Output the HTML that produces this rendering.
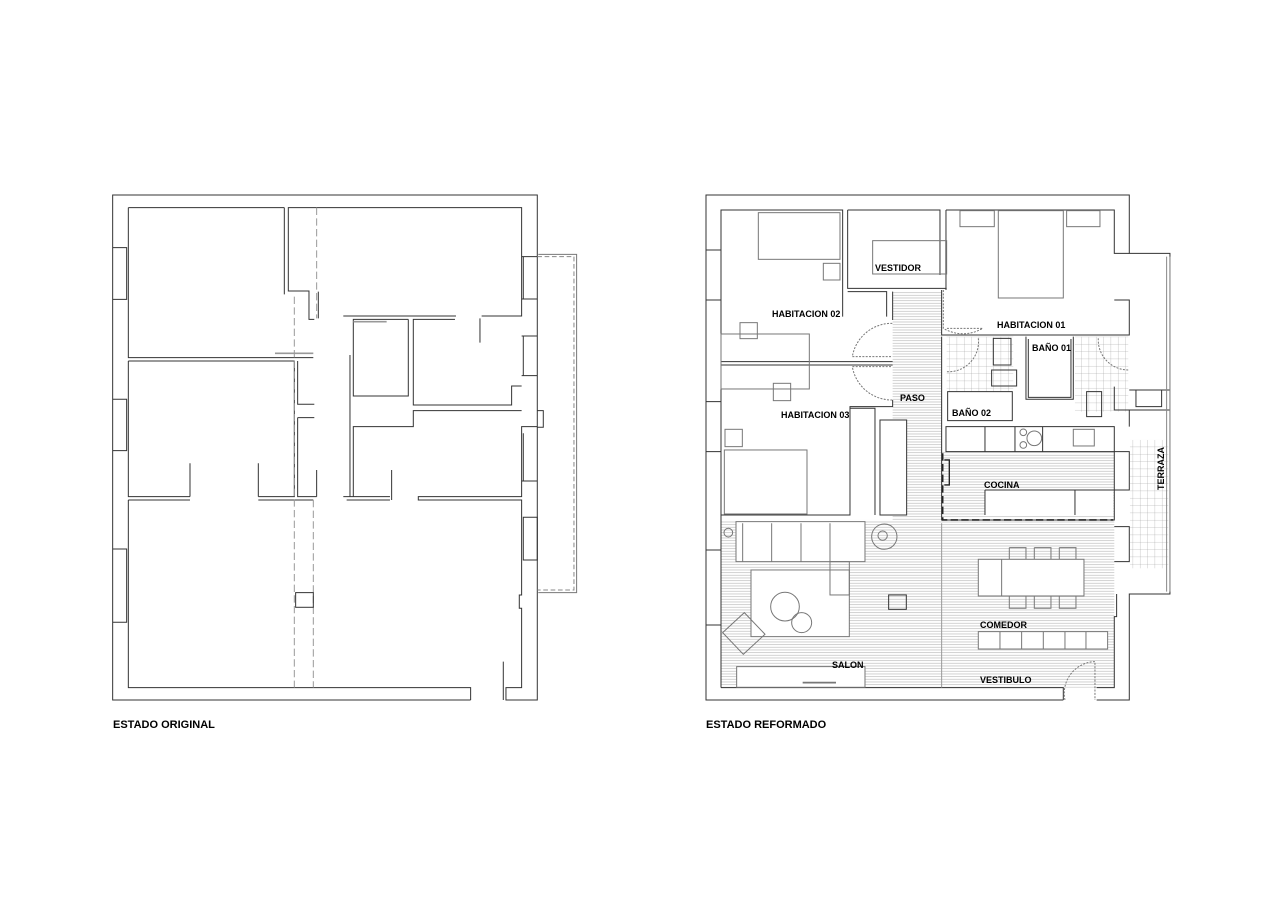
<!DOCTYPE html>
<html><head><meta charset="utf-8"><style>
html,body{margin:0;padding:0;background:#fff;}
svg{display:block}
text{font-family:"Liberation Sans",sans-serif;font-weight:bold;fill:#000}
</style></head><body>
<svg width="1280" height="905" viewBox="0 0 1280 905" xmlns="http://www.w3.org/2000/svg">
<defs>
<pattern id="hat" width="10" height="8" patternUnits="userSpaceOnUse"><line x1="0" y1="4" x2="10" y2="4" stroke="#aaa" stroke-width="1.6"/></pattern>
<pattern id="tile" width="22" height="22" patternUnits="userSpaceOnUse"><path d="M0 0H22M0 0V22" stroke="#999" stroke-width="1.6" fill="none"/></pattern>
</defs>

<!-- LEFT PLAN -->
<g transform="translate(100,190) scale(0.3333)" fill="none" stroke="#333" stroke-width="3">
<path d="M1112,1530 H38 V15 H1312 V1530 H1218 V1493 H1265 V1255 H1258 V1215 H1265 V930 H955 V920 H1265 V710 H1312 V662 H1330 V712 H1312"/>
<path d="M1265,662 H940 V710 H760 V920 H870 M750,920 V495 M740,930 H870 M730,920 H760"/>
<path d="M1265,588 H1235 V645 H940 V388 H1065 M925,388 V618 H760 V388 H925 M730,378 H1068 M1145,378 H1265 V53 H565 V303 H627 V388 H643 M553,53 V313"/>
<path d="M85,53 H553 M85,53 V503 H640 M85,513 H583 V920 H475 M270,920 H85 V513 M593,513 V643 H643 M593,683 H643 M593,683 V920 H650 M85,930 V1493 H1112 V1530 M85,930 H270 M475,930 H640"/>
<path d="M270,820 V920 M475,820 V920 M650,840 V920 M875,840 V930 M1140,385 V458 M655,305 V385 M1210,1415 V1530"/>
<path d="M38,173 H80 V328 H38 M38,628 H80 V782 H38 M38,1077 H80 V1297 H38"/>
<path d="M1265,200 H1312 M1265,327 H1312 M1265,438 H1312 M1265,557 H1312 M1265,873 H1312 M1270,730 V873 M1270,982 H1312 V1110 H1270 Z M1270,200 V327 M1270,438 V557"/>
<path d="M1315,193 H1430 V1208 H1315" stroke="#777"/>
<path d="M1312,200 H1422 V1200 H1312" stroke-dasharray="14,8" stroke="#888"/>
<path d="M650,53 V385 M583,320 V1493 M640,930 V1493" stroke-dasharray="22,10" stroke="#999"/>
<path d="M525,490 H640" stroke="#999" stroke-width="5"/>
<path d="M760,395 H860" stroke="#999" stroke-width="5"/>
<rect x="587" y="1208" width="53" height="44"/>
</g>
<text x="113" y="728" font-size="11">ESTADO ORIGINAL</text>

<!-- RIGHT PLAN -->
<g transform="translate(700,190) scale(0.3333)">
<g stroke="none">
<rect x="578" y="305" width="147" height="685" fill="url(#hat)"/>
<rect x="63" y="990" width="1180" height="503" fill="url(#hat)"/>
<rect x="725" y="785" width="518" height="200" fill="url(#hat)"/>
<rect x="740" y="440" width="200" height="165" fill="url(#tile)"/>
<rect x="1125" y="440" width="160" height="225" fill="url(#tile)"/>
<rect x="1290" y="750" width="115" height="385" fill="url(#tile)"/>
</g>
<g fill="#fff" stroke="none">
<rect x="108" y="995" width="387" height="120"/><rect x="153" y="1140" width="295" height="200"/>
<rect x="835" y="1108" width="317" height="110"/><rect x="835" y="1325" width="388" height="52"/>
<rect x="110" y="1430" width="385" height="62"/><rect x="855" y="900" width="385" height="75"/>
<rect x="450" y="655" width="75" height="320"/><rect x="540" y="690" width="80" height="285"/>
</g>
<g fill="none" stroke="#333" stroke-width="3">
<path d="M1090,1530 H18 V15 H1288 V190 H1410 V1212 H1288 V1530 H1190"/>
<path d="M63,1493 V60 H428 V380 M443,60 H720 V255 M738,60 V300 M738,60 H1243 V190 H1288 M1243,330 H1288 V435 H725 V300 M63,1493 H1090 V1530 M1190,1493 H1243 V1280 H1250 V1212"/>
<path d="M443,60 V295 H740 M443,305 H560 V380 M578,305 V390 M63,515 H578 M63,525 H578 M578,630 V650 H450 V975 H63 M540,690 H620 V975 H540 Z M450,655 H525 V975"/>
<path d="M725,440 V545 M725,545 V990 H1243 V710 H738 V785 H1243 M855,710 V785 M945,710 V785 M1028,710 V785 M855,900 H1243 M855,900 V975 M1125,900 V975"/>
<path d="M1243,785 H1288 V900 H1243 M1243,1010 H1288 V1115 H1243 M1243,590 V660 H1410 M1288,660 V710 M1288,600 H1410 M1308,600 H1385 V650 H1308 Z"/>
<path d="M18,180 H63 M18,330 H63 M18,635 H63 M18,785 H63 M18,1080 H63 M18,1305 H63"/>
<path d="M978,440 V628 H1120 V440 M985,447 V622 H1113 V447 M743,605 H937 V692 H743 Z M880,445 H933 V525 H880 Z M875,540 H950 V588 H875 Z M1160,605 H1205 V680 H1160 Z"/>
<rect x="175" y="68" width="245" height="140" stroke="#777"/>
<rect x="370" y="220" width="50" height="50" stroke="#777"/>
<rect x="518" y="152" width="222" height="100" stroke="#777"/>
<rect x="780" y="62" width="103" height="48" stroke="#777"/>
<rect x="1100" y="62" width="100" height="48" stroke="#777"/>
<rect x="895" y="62" width="195" height="262" stroke="#777"/>
<rect x="63" y="432" width="265" height="165" stroke="#777"/>
<rect x="120" y="398" width="52" height="48" stroke="#777"/>
<rect x="220" y="580" width="52" height="52" stroke="#777"/>
<rect x="75" y="718" width="52" height="52" stroke="#777"/>
<rect x="73" y="780" width="248" height="192" stroke="#777"/>
<path d="M108,995 H495 V1115 H108 Z M128,1000 V1115 M215,1000 V1115 M303,1000 V1115 M390,1000 V1115" stroke="#777"/>
<rect x="153" y="1140" width="295" height="200" stroke="#777"/>
<rect x="390" y="1115" width="58" height="100" stroke="#777"/>
<circle cx="255" cy="1250" r="43" stroke="#777"/><circle cx="305" cy="1298" r="30" stroke="#777"/>
<path d="M68,1328 L133,1268 L195,1333 L130,1393 Z" stroke="#777"/>
<circle cx="85" cy="1028" r="13" stroke="#777"/>
<circle cx="553" cy="1040" r="38" stroke="#777"/><circle cx="548" cy="1037" r="14" stroke="#777"/>
<rect x="566" y="1215" width="53" height="43"/>
<rect x="835" y="1108" width="317" height="110" stroke="#777"/>
<path d="M905,1108 V1218 M928,1073 H978 V1108 M1003,1073 H1053 V1108 M1078,1073 H1128 V1108 M928,1073 V1108 M1003,1073 V1108 M1078,1073 V1108 M928,1218 V1255 H978 V1218 M1003,1218 V1255 H1053 V1218 M1078,1218 V1255 H1128 V1218" stroke="#777"/>
<path d="M835,1325 H1223 V1377 H835 Z M900,1325 V1377 M965,1325 V1377 M1030,1325 V1377 M1095,1325 V1377 M1158,1325 V1377" stroke="#777"/>
<rect x="110" y="1430" width="385" height="62" stroke="#777"/>
<path d="M308,1478 H408" stroke="#777" stroke-width="5"/>
<path d="M725,1000 V1493" stroke="#999"/>
<rect x="1120" y="718" width="63" height="50" stroke="#777"/>
<circle cx="1003" cy="745" r="22" stroke="#777"/><circle cx="970" cy="727" r="10" stroke="#777"/><circle cx="970" cy="765" r="10" stroke="#777"/>
<path d="M730,300 V415 A115,115 0 0 0 848,415 H738 M577,400 A120,120 0 0 0 457,500 H577 M577,630 A120,120 0 0 1 457,530 H577 M835,445 A90,90 0 0 1 738,545 M1195,445 A90,90 0 0 0 1285,540 M1095,1530 A95,95 0 0 1 1185,1415 V1530" stroke="#777" stroke-dasharray="6,4"/>
<path d="M728,790 V990 H1240" stroke="#222" stroke-width="5" stroke-dasharray="22,10"/>
<path d="M733,810 H748 V885 H733" stroke="#222" stroke-width="4"/>
<path d="M1410,200 V1205 M1400,200 V1205" stroke="#888"/>
</g>
</g>
<g font-size="9">
<text x="772" y="317">HABITACION 02</text>
<text x="875" y="271">VESTIDOR</text>
<text x="997" y="328">HABITACION 01</text>
<text x="1032" y="351">BAÑO 01</text>
<text x="900" y="401">PASO</text>
<text x="781" y="418">HABITACION 03</text>
<text x="952" y="416">BAÑO 02</text>
<text x="984" y="488">COCINA</text>
<text x="980" y="628">COMEDOR</text>
<text x="832" y="668">SALON</text>
<text x="980" y="683">VESTIBULO</text>
<text transform="translate(1164,490) rotate(-90)">TERRAZA</text>
</g>
<text x="706" y="728" font-size="11">ESTADO REFORMADO</text>
</svg>
</body></html>
